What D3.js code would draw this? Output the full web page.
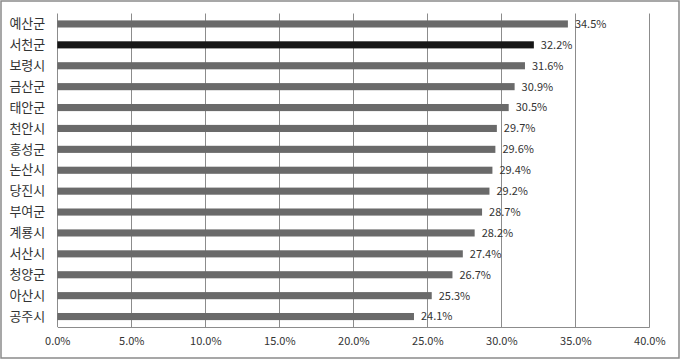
<!DOCTYPE html>
<html><head><meta charset="utf-8">
<script src="https://cdn.jsdelivr.net/npm/d3@7"></script>
<style>
html,body{margin:0;padding:0;background:#fff;}
svg{display:block;}
</style></head>
<body>
<svg id="c" width="680" height="359"></svg>
<script>
const categories = ["예산군","서천군","보령시","금산군","태안군","천안시","홍성군","논산시","당진시","부여군","계룡시","서산시","청양군","아산시","공주시"];
const values = [34.5,32.2,31.6,30.9,30.5,29.7,29.6,29.4,29.2,28.7,28.2,27.4,26.7,25.3,24.1];
const highlight = ["서천군"];
const ticks = [0,5,10,15,20,25,30,35,40];

const svg = d3.select("#c");
const W = 680, H = 359;
const m = {left:57.3, right:680-649.3, top:13.5, bottom:359-327};
const font = "'Noto Sans CJK KR', 'DejaVu Sans', sans-serif";

svg.append("rect").attr("x",1).attr("y",1).attr("width",W-2).attr("height",H-2)
  .attr("fill","#fff").attr("stroke","#8a8a8a").attr("stroke-width",1.5);

const x = d3.scaleLinear().domain([0,40]).range([m.left, W-m.right]);
const y = d3.scaleBand().domain(categories).range([m.top, H-m.bottom]).paddingInner(0.66).paddingOuter(0.33);

// gridlines
svg.append("g").selectAll("line").data(ticks.slice(1)).join("line")
  .attr("x1",d=>Math.round(x(d))+0.5).attr("x2",d=>Math.round(x(d))+0.5)
  .attr("y1",m.top).attr("y2",H-m.bottom)
  .attr("stroke","#8c8c8c").attr("stroke-width",1);

// bottom axis
const xa = d3.axisBottom(x).tickValues(ticks).tickFormat(d=>d.toFixed(1)+"%").tickSize(0).tickPadding(10);
const gx = svg.append("g").attr("transform",`translate(0,${H-m.bottom})`).call(xa);
gx.select(".domain").attr("stroke","#8c8c8c");
gx.selectAll("text").attr("font-family",font).attr("font-size",11).attr("fill","#333");

// left axis line
svg.append("line").attr("x1",Math.round(x(0))+0.5).attr("x2",Math.round(x(0))+0.5)
  .attr("y1",m.top).attr("y2",H-m.bottom).attr("stroke","#8c8c8c");

// bars
svg.append("g").selectAll("rect").data(categories).join("rect")
  .attr("x",x(0)).attr("y",d=>y(d))
  .attr("width",(d,i)=>x(values[i])-x(0)).attr("height",y.bandwidth())
  .attr("fill",d=>highlight.includes(d)?"#161616":"#6a6a6a");

// value labels
svg.append("g").selectAll("text").data(categories).join("text")
  .attr("x",(d,i)=>x(values[i])+7).attr("y",d=>y(d)+y.bandwidth()/2)
  .attr("dy","0.35em").attr("font-family",font).attr("font-size",11).attr("fill","#333")
  .text((d,i)=>values[i].toFixed(1)+"%");

// category labels
const ya = d3.axisLeft(y).tickSize(0).tickPadding(12);
const gy = svg.append("g").attr("transform",`translate(${m.left},0)`).call(ya);
gy.select(".domain").remove();
gy.selectAll("text").attr("font-family",font).attr("font-size",13).attr("fill","#333");
</script>
</body></html>
